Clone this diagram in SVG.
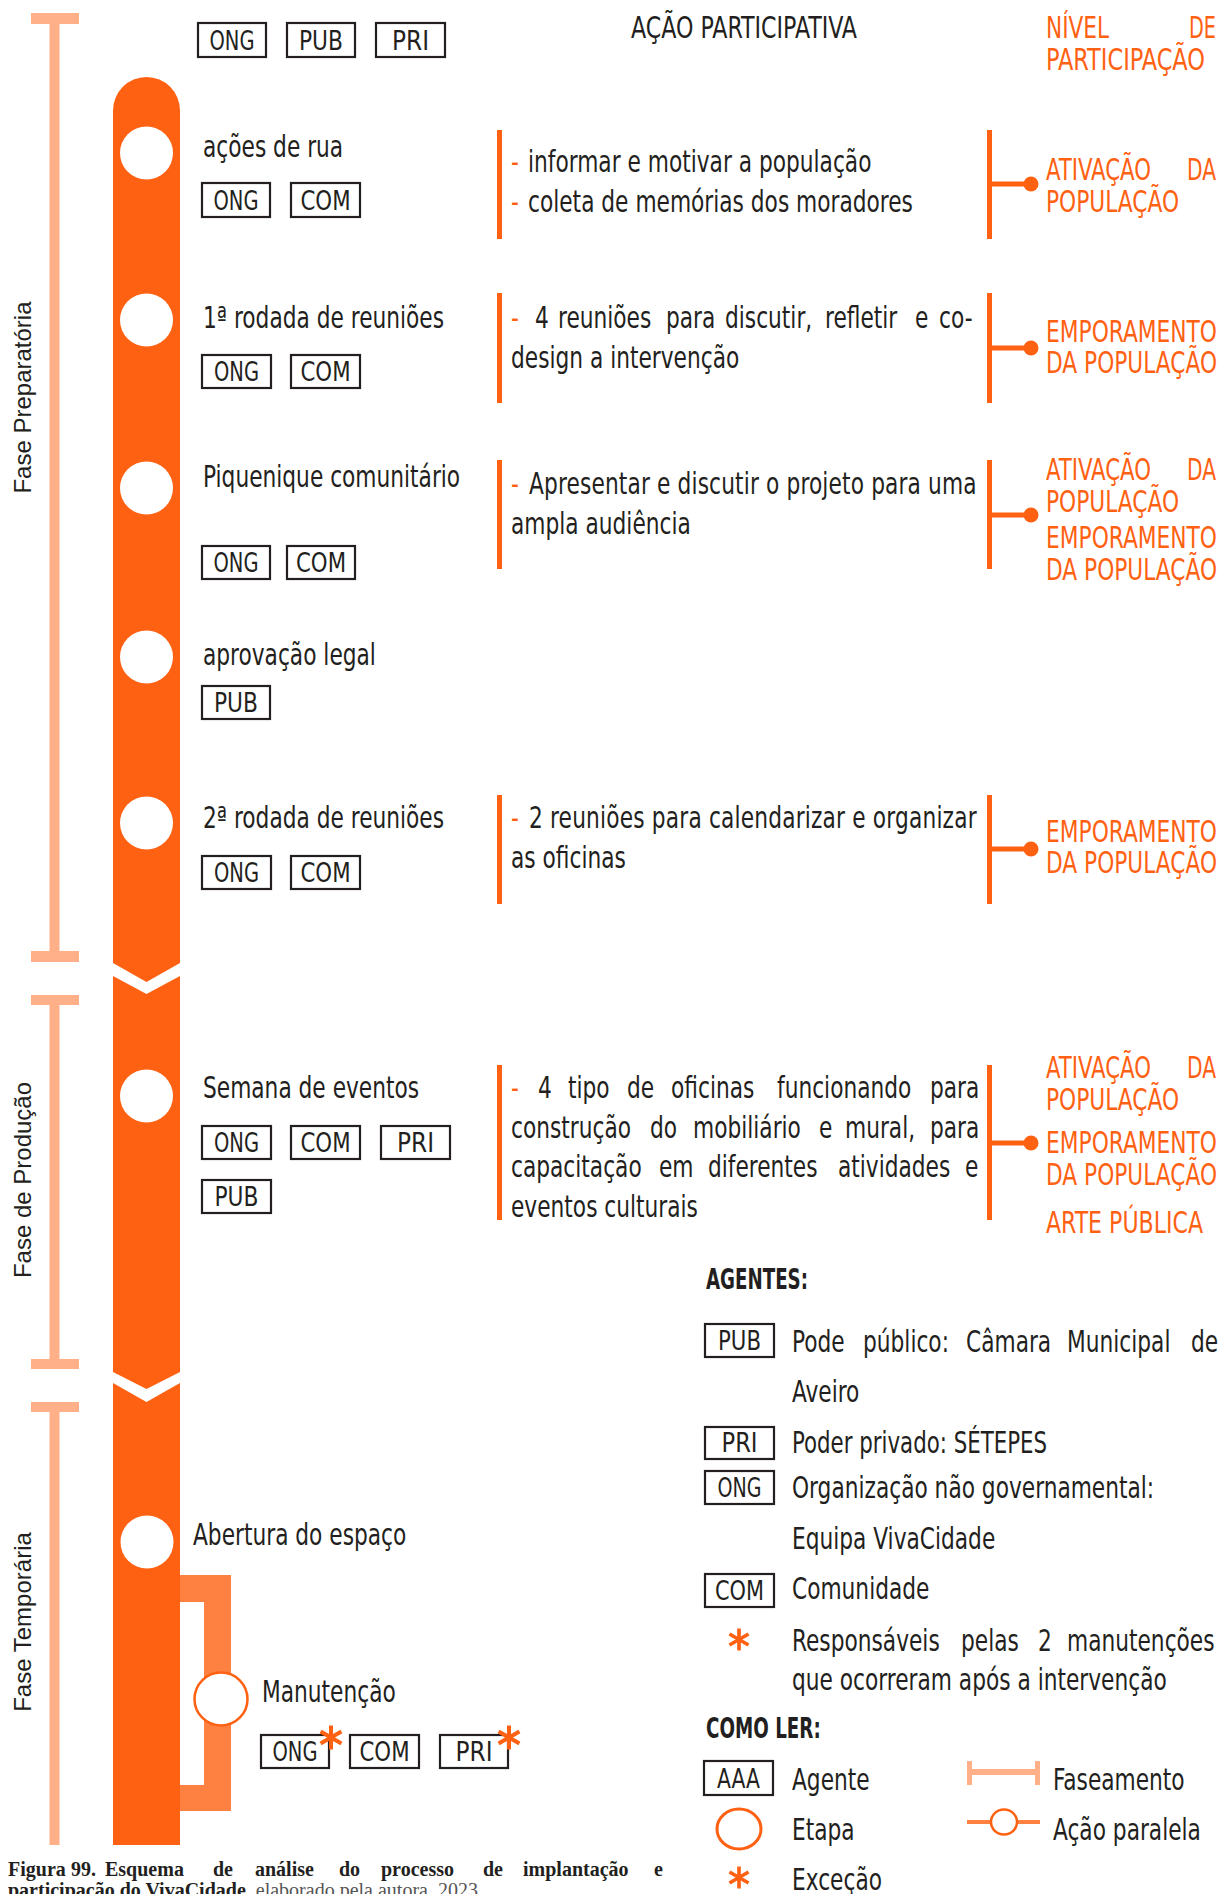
<svg xmlns="http://www.w3.org/2000/svg" width="1226" height="1894" viewBox="0 0 1226 1894">
<style>
  text { font-family: "DejaVu Sans Condensed", "DejaVu Sans", sans-serif; fill: #231f20; font-size: 30px; }
  .o { fill: #ff6112; }
  .b { font-weight: bold; font-size: 28px; }
  .bx rect { fill: none; stroke: #231f20; stroke-width: 2.2; }
  .bx text { font-size: 27px; text-anchor: middle; }
  .ph { font-family: "Liberation Sans", Arial, sans-serif; font-size: 24px; text-anchor: middle; }
  .spine { fill: #ff6112; }
  .phase { fill: #ffb088; }
  .hole { fill: #ffffff; }
  .rule { fill: #ff6112; }
  .lnk { stroke: #ff6112; stroke-width: 5; fill: none; }
  .cap { font-family: "Liberation Serif", "Times New Roman", serif; font-size: 20px; }
</style>
<defs>
  <symbol id="ast" viewBox="-12 -12 24 24">
    <g stroke="#ff6112" stroke-width="4">
      <line x1="0" y1="-12" x2="0" y2="12"/>
      <line x1="-10.4" y1="-6" x2="10.4" y2="6"/>
      <line x1="-10.4" y1="6" x2="10.4" y2="-6"/>
    </g>
  </symbol>
</defs>
<rect width="1226" height="1894" fill="#ffffff"/>

<!-- phase rulers -->
<g id="phases">
  <rect class="phase" x="31" y="13" width="48" height="11"/>
  <rect class="phase" x="49.5" y="13" width="10" height="949"/>
  <rect class="phase" x="31" y="951" width="48" height="11"/>
  <text class="ph" transform="translate(31,397.5) rotate(-90)">Fase Preparatória</text>

  <rect class="phase" x="31" y="995" width="48" height="10"/>
  <rect class="phase" x="49.5" y="995" width="10" height="374"/>
  <rect class="phase" x="31" y="1359" width="48" height="10"/>
  <text class="ph" transform="translate(31,1180) rotate(-90)">Fase de Produção</text>

  <rect class="phase" x="31" y="1402" width="48" height="10"/>
  <rect class="phase" x="49.5" y="1402" width="10" height="443"/>
  <text class="ph" transform="translate(31,1622) rotate(-90)">Fase Temporária</text>
</g>

<!-- timeline spine -->
<g id="spine">
  <path class="spine" d="M113,110.5 A33.5,33.5 0 0 1 180,110.5 V963 L146.5,982 L113,963 Z"/>
  <path class="spine" d="M113,976 L146.5,994 L180,976 V1372 L146.5,1389 L113,1372 Z"/>
  <path class="spine" d="M113,1383 L146.5,1402 L180,1383 V1845 H113 Z"/>
</g>

<!-- header -->
<g id="header">
  <g class="bx"><rect x="198" y="23" width="68" height="34"/><text x="232" y="50" textLength="45" lengthAdjust="spacingAndGlyphs">ONG</text></g>
  <g class="bx"><rect x="287" y="23" width="68" height="34"/><text x="321" y="50" textLength="44" lengthAdjust="spacingAndGlyphs">PUB</text></g>
  <g class="bx"><rect x="376" y="23" width="69" height="34"/><text x="410.5" y="50" textLength="37" lengthAdjust="spacingAndGlyphs">PRI</text></g>
  <text transform="matrix(.8 0 0 1 631 38)" textLength="282.5" lengthAdjust="spacingAndGlyphs">AÇÃO PARTICIPATIVA</text>
  <text class="o" transform="matrix(.8 0 0 1 1046 38)" textLength="78.75" lengthAdjust="spacingAndGlyphs">NÍVEL</text>
  <text class="o" transform="matrix(.8 0 0 1 1189 38)" textLength="33.75" lengthAdjust="spacingAndGlyphs">DE</text>
  <text class="o" transform="matrix(.8 0 0 1 1046 70)" textLength="198.75" lengthAdjust="spacingAndGlyphs">PARTICIPAÇÃO</text>
</g>

<!-- links: description rules, brackets and parallel action -->
<g id="connectors">
  <rect class="rule" x="497" y="130" width="5" height="109"/>
  <path class="lnk" d="M989.5,130 V239 M989.5,184 H1031"/>
  <circle class="rule" cx="1031" cy="184" r="7.5"/>

  <rect class="rule" x="497" y="293" width="5" height="110"/>
  <path class="lnk" d="M989.5,293 V403 M989.5,348 H1031"/>
  <circle class="rule" cx="1031" cy="348" r="7.5"/>

  <rect class="rule" x="497" y="460" width="5" height="109"/>
  <path class="lnk" d="M989.5,460 V569 M989.5,515 H1031"/>
  <circle class="rule" cx="1031" cy="515" r="7.5"/>

  <rect class="rule" x="497" y="795" width="5" height="109"/>
  <path class="lnk" d="M989.5,795 V904 M989.5,849 H1031"/>
  <circle class="rule" cx="1031" cy="849" r="7.5"/>

  <rect class="rule" x="497" y="1065" width="5" height="155"/>
  <path class="lnk" d="M989.5,1065 V1220 M989.5,1143 H1031"/>
  <circle class="rule" cx="1031" cy="1143" r="7.5"/>

  <path fill="#ff8142" d="M180,1575 H231 V1811 H180 V1785 H204 V1602 H180 Z"/>
</g>

<!-- step 1 -->
<g id="step-acoes-de-rua">
  <circle class="hole" cx="146.5" cy="153" r="26.5"/>
  <text transform="matrix(.805 0 0 1 203 157)">ações de rua</text>
  <g class="bx"><rect x="202" y="183" width="68" height="34"/><text x="236" y="210" textLength="45" lengthAdjust="spacingAndGlyphs">ONG</text></g>
  <g class="bx"><rect x="291" y="183" width="69" height="34"/><text x="325.5" y="210" textLength="50" lengthAdjust="spacingAndGlyphs">COM</text></g>
  <text class="o" transform="matrix(.805 0 0 1 511 172)">-</text>
  <text transform="matrix(.805 0 0 1 528 172)">informar e motivar a população</text>
  <text class="o" transform="matrix(.805 0 0 1 511 212)">-</text>
  <text transform="matrix(.805 0 0 1 528 212)">coleta de memórias dos moradores</text>
  <text class="o" transform="matrix(.8 0 0 1 1046 180)" textLength="131.25" lengthAdjust="spacingAndGlyphs">ATIVAÇÃO</text>
  <text class="o" transform="matrix(.8 0 0 1 1187 180)" textLength="36.25" lengthAdjust="spacingAndGlyphs">DA</text>
  <text class="o" transform="matrix(.8 0 0 1 1046 212)" textLength="166.25" lengthAdjust="spacingAndGlyphs">POPULAÇÃO</text>
</g>

<!-- step 2 -->
<g id="step-rodada-1">
  <circle class="hole" cx="146.5" cy="320" r="26.5"/>
  <text transform="matrix(.805 0 0 1 203 328)">1ª rodada de reuniões</text>
  <g class="bx"><rect x="202" y="355" width="69" height="33"/><text x="236.5" y="381" textLength="45" lengthAdjust="spacingAndGlyphs">ONG</text></g>
  <g class="bx"><rect x="291" y="355" width="69" height="33"/><text x="325.5" y="381" textLength="50" lengthAdjust="spacingAndGlyphs">COM</text></g>
  <text class="o" transform="matrix(.805 0 0 1 511 328)">-</text>
  <text transform="matrix(.805 0 0 1 535 328)">4</text>
  <text transform="matrix(.805 0 0 1 558 328)">reuniões</text>
  <text transform="matrix(.805 0 0 1 666 328)">para</text>
  <text transform="matrix(.805 0 0 1 725 328)">discutir,</text>
  <text transform="matrix(.805 0 0 1 825 328)">refletir</text>
  <text transform="matrix(.805 0 0 1 915 328)">e</text>
  <text transform="matrix(.805 0 0 1 939 328)">co-</text>
  <text transform="matrix(.805 0 0 1 511 368)">design a intervenção</text>
  <text class="o" transform="matrix(.8 0 0 1 1046 342)" textLength="213.75" lengthAdjust="spacingAndGlyphs">EMPORAMENTO</text>
  <text class="o" transform="matrix(.8 0 0 1 1046 373)" textLength="213.75" lengthAdjust="spacingAndGlyphs">DA POPULAÇÃO</text>
</g>

<!-- step 3 -->
<g id="step-piquenique">
  <circle class="hole" cx="146.5" cy="488" r="26.5"/>
  <text transform="matrix(.805 0 0 1 203 487)">Piquenique comunitário</text>
  <g class="bx"><rect x="202" y="546" width="68" height="33"/><text x="236" y="572" textLength="45" lengthAdjust="spacingAndGlyphs">ONG</text></g>
  <g class="bx"><rect x="287" y="546" width="68" height="33"/><text x="321" y="572" textLength="50" lengthAdjust="spacingAndGlyphs">COM</text></g>
  <text class="o" transform="matrix(.805 0 0 1 511 494)">-</text>
  <text transform="matrix(.805 0 0 1 529 494)" textLength="556" lengthAdjust="spacing">Apresentar e discutir o projeto para uma</text>
  <text transform="matrix(.805 0 0 1 511 534)">ampla audiência</text>
  <text class="o" transform="matrix(.8 0 0 1 1046 480)" textLength="131.25" lengthAdjust="spacingAndGlyphs">ATIVAÇÃO</text>
  <text class="o" transform="matrix(.8 0 0 1 1187 480)" textLength="36.25" lengthAdjust="spacingAndGlyphs">DA</text>
  <text class="o" transform="matrix(.8 0 0 1 1046 512)" textLength="166.25" lengthAdjust="spacingAndGlyphs">POPULAÇÃO</text>
  <text class="o" transform="matrix(.8 0 0 1 1046 548)" textLength="213.75" lengthAdjust="spacingAndGlyphs">EMPORAMENTO</text>
  <text class="o" transform="matrix(.8 0 0 1 1046 580)" textLength="213.75" lengthAdjust="spacingAndGlyphs">DA POPULAÇÃO</text>
</g>

<!-- step 4 -->
<g id="step-aprovacao">
  <circle class="hole" cx="146.5" cy="657" r="26.5"/>
  <text transform="matrix(.805 0 0 1 203 665)">aprovação legal</text>
  <g class="bx"><rect x="202" y="686" width="68" height="33"/><text x="236" y="712" textLength="44" lengthAdjust="spacingAndGlyphs">PUB</text></g>
</g>

<!-- step 5 -->
<g id="step-rodada-2">
  <circle class="hole" cx="146.5" cy="823" r="26.5"/>
  <text transform="matrix(.805 0 0 1 203 828)">2ª rodada de reuniões</text>
  <g class="bx"><rect x="202" y="856" width="69" height="33"/><text x="236.5" y="882" textLength="45" lengthAdjust="spacingAndGlyphs">ONG</text></g>
  <g class="bx"><rect x="291" y="856" width="69" height="33"/><text x="325.5" y="882" textLength="50" lengthAdjust="spacingAndGlyphs">COM</text></g>
  <text class="o" transform="matrix(.805 0 0 1 511 828)">-</text>
  <text transform="matrix(.805 0 0 1 529 828)" textLength="556" lengthAdjust="spacing">2 reuniões para calendarizar e organizar</text>
  <text transform="matrix(.805 0 0 1 511 868)">as oficinas</text>
  <text class="o" transform="matrix(.8 0 0 1 1046 842)" textLength="213.75" lengthAdjust="spacingAndGlyphs">EMPORAMENTO</text>
  <text class="o" transform="matrix(.8 0 0 1 1046 873)" textLength="213.75" lengthAdjust="spacingAndGlyphs">DA POPULAÇÃO</text>
</g>

<!-- step 6 -->
<g id="step-semana">
  <circle class="hole" cx="146.5" cy="1096" r="26.5"/>
  <text transform="matrix(.805 0 0 1 203 1098)">Semana de eventos</text>
  <g class="bx"><rect x="202" y="1126" width="69" height="33"/><text x="236.5" y="1152" textLength="45" lengthAdjust="spacingAndGlyphs">ONG</text></g>
  <g class="bx"><rect x="291" y="1126" width="69" height="33"/><text x="325.5" y="1152" textLength="50" lengthAdjust="spacingAndGlyphs">COM</text></g>
  <g class="bx"><rect x="381" y="1126" width="69" height="33"/><text x="415.5" y="1152" textLength="37" lengthAdjust="spacingAndGlyphs">PRI</text></g>
  <g class="bx"><rect x="202" y="1180" width="69" height="33"/><text x="236.5" y="1206" textLength="44" lengthAdjust="spacingAndGlyphs">PUB</text></g>
  <text class="o" transform="matrix(.805 0 0 1 511 1098)">-</text>
  <text transform="matrix(.805 0 0 1 538 1098)">4</text>
  <text transform="matrix(.805 0 0 1 568 1098)">tipo</text>
  <text transform="matrix(.805 0 0 1 627 1098)">de</text>
  <text transform="matrix(.805 0 0 1 671 1098)">oficinas</text>
  <text transform="matrix(.805 0 0 1 777 1098)">funcionando</text>
  <text transform="matrix(.805 0 0 1 930 1098)">para</text>
  <text transform="matrix(.805 0 0 1 511 1138)">construção</text>
  <text transform="matrix(.805 0 0 1 650 1138)">do</text>
  <text transform="matrix(.805 0 0 1 693 1138)">mobiliário</text>
  <text transform="matrix(.805 0 0 1 819 1138)">e</text>
  <text transform="matrix(.805 0 0 1 845 1138)">mural,</text>
  <text transform="matrix(.805 0 0 1 930 1138)">para</text>
  <text transform="matrix(.805 0 0 1 511 1177)">capacitação</text>
  <text transform="matrix(.805 0 0 1 659 1177)">em</text>
  <text transform="matrix(.805 0 0 1 708 1177)">diferentes</text>
  <text transform="matrix(.805 0 0 1 838 1177)">atividades</text>
  <text transform="matrix(.805 0 0 1 965 1177)">e</text>
  <text transform="matrix(.805 0 0 1 511 1217)">eventos culturais</text>
  <text class="o" transform="matrix(.8 0 0 1 1046 1078)" textLength="131.25" lengthAdjust="spacingAndGlyphs">ATIVAÇÃO</text>
  <text class="o" transform="matrix(.8 0 0 1 1187 1078)" textLength="36.25" lengthAdjust="spacingAndGlyphs">DA</text>
  <text class="o" transform="matrix(.8 0 0 1 1046 1110)" textLength="166.25" lengthAdjust="spacingAndGlyphs">POPULAÇÃO</text>
  <text class="o" transform="matrix(.8 0 0 1 1046 1153)" textLength="213.75" lengthAdjust="spacingAndGlyphs">EMPORAMENTO</text>
  <text class="o" transform="matrix(.8 0 0 1 1046 1185)" textLength="213.75" lengthAdjust="spacingAndGlyphs">DA POPULAÇÃO</text>
  <text class="o" transform="matrix(.8 0 0 1 1046 1233)" textLength="196.25" lengthAdjust="spacingAndGlyphs">ARTE PÚBLICA</text>
</g>

<!-- step 7 -->
<g id="step-abertura">
  <circle class="hole" cx="147" cy="1542" r="26.5"/>
  <text transform="matrix(.805 0 0 1 193 1545)">Abertura do espaço</text>
</g>

<!-- parallel step -->
<g id="step-manutencao">
  <circle cx="221" cy="1699" r="26.5" fill="#ffffff" stroke="#ff6112" stroke-width="2.5"/>
  <text transform="matrix(.805 0 0 1 262 1702)">Manutenção</text>
  <g class="bx"><rect x="261" y="1735" width="68" height="33"/><text x="295" y="1761" textLength="45" lengthAdjust="spacingAndGlyphs">ONG</text></g>
  <g class="bx"><rect x="350" y="1735" width="69" height="33"/><text x="384.5" y="1761" textLength="50" lengthAdjust="spacingAndGlyphs">COM</text></g>
  <g class="bx"><rect x="440" y="1735" width="68" height="33"/><text x="474" y="1761" textLength="37" lengthAdjust="spacingAndGlyphs">PRI</text></g>
  <use href="#ast" x="319" y="1725" width="24" height="25"/>
  <use href="#ast" x="497" y="1725" width="24" height="25"/>
</g>

<!-- legend: agents -->
<g id="legend-agentes">
  <text class="b" transform="matrix(.75 0 0 1 706 1289)" textLength="136" lengthAdjust="spacingAndGlyphs">AGENTES:</text>
  <g class="bx"><rect x="705" y="1324" width="69" height="33"/><text x="739.5" y="1350" textLength="43" lengthAdjust="spacingAndGlyphs">PUB</text></g>
  <text transform="matrix(.805 0 0 1 792 1352)">Pode</text>
  <text transform="matrix(.805 0 0 1 863 1352)">público:</text>
  <text transform="matrix(.805 0 0 1 966 1352)">Câmara</text>
  <text transform="matrix(.805 0 0 1 1067 1352)">Municipal</text>
  <text transform="matrix(.805 0 0 1 1191 1352)">de</text>
  <text transform="matrix(.805 0 0 1 792 1402)">Aveiro</text>
  <g class="bx"><rect x="705" y="1427" width="69" height="32"/><text x="739.5" y="1452" textLength="36" lengthAdjust="spacingAndGlyphs">PRI</text></g>
  <text transform="matrix(.805 0 0 1 792 1453)" textLength="316.8" lengthAdjust="spacingAndGlyphs">Poder privado: SÉTEPES</text>
  <g class="bx"><rect x="705" y="1471" width="69" height="33"/><text x="739.5" y="1497" textLength="44" lengthAdjust="spacingAndGlyphs">ONG</text></g>
  <text transform="matrix(.805 0 0 1 792 1498)">Organização não governamental:</text>
  <text transform="matrix(.805 0 0 1 792 1549)">Equipa VivaCidade</text>
  <g class="bx"><rect x="705" y="1574" width="69" height="33"/><text x="739.5" y="1600" textLength="49" lengthAdjust="spacingAndGlyphs">COM</text></g>
  <text transform="matrix(.805 0 0 1 792 1599)">Comunidade</text>
  <use href="#ast" x="728" y="1628" width="22" height="23"/>
  <text transform="matrix(.805 0 0 1 792 1651)">Responsáveis</text>
  <text transform="matrix(.805 0 0 1 961 1651)">pelas</text>
  <text transform="matrix(.805 0 0 1 1038 1651)">2</text>
  <text transform="matrix(.805 0 0 1 1067 1651)">manutenções</text>
  <text transform="matrix(.805 0 0 1 792 1690)">que ocorreram após a intervenção</text>
</g>

<!-- legend: how to read -->
<g id="legend-como-ler">
  <text class="b" transform="matrix(.75 0 0 1 706 1738)" textLength="153" lengthAdjust="spacingAndGlyphs">COMO LER:</text>
  <g class="bx"><rect x="704" y="1761" width="69" height="34"/><text x="738.5" y="1788" textLength="43" lengthAdjust="spacingAndGlyphs">AAA</text></g>
  <text transform="matrix(.805 0 0 1 792 1790)">Agente</text>
  <ellipse cx="739" cy="1829" rx="22" ry="20" fill="none" stroke="#ff6112" stroke-width="3"/>
  <text transform="matrix(.805 0 0 1 792 1840)">Etapa</text>
  <use href="#ast" x="728" y="1866" width="22" height="23"/>
  <text transform="matrix(.805 0 0 1 792 1890)">Exceção</text>

  <rect class="phase" x="967" y="1769" width="73" height="6"/>
  <rect class="phase" x="967" y="1761" width="5" height="24"/>
  <rect class="phase" x="1035" y="1761" width="5" height="24"/>
  <text transform="matrix(.805 0 0 1 1053 1790)">Faseamento</text>
  <line x1="967" y1="1822" x2="1040" y2="1822" stroke="#ff8142" stroke-width="4"/>
  <ellipse cx="1004" cy="1822" rx="13" ry="12.5" fill="#ffffff" stroke="#ff6112" stroke-width="2.5"/>
  <text transform="matrix(.805 0 0 1 1053 1840)">Ação paralela</text>
</g>

<!-- caption -->
<g id="caption">
  <text class="cap" y="1876" font-weight="bold"><tspan x="8">Figura</tspan><tspan x="71">99.</tspan><tspan x="105">Esquema</tspan><tspan x="213">de</tspan><tspan x="255">análise</tspan><tspan x="339">do</tspan><tspan x="381">processo</tspan><tspan x="483">de</tspan><tspan x="523">implantação</tspan><tspan x="654">e</tspan></text>
  <text class="cap" x="8" y="1897"><tspan font-weight="bold">participação do VivaCidade</tspan><tspan fill="#555555">, elaborado pela autora, 2023.</tspan></text>
</g>
</svg>
